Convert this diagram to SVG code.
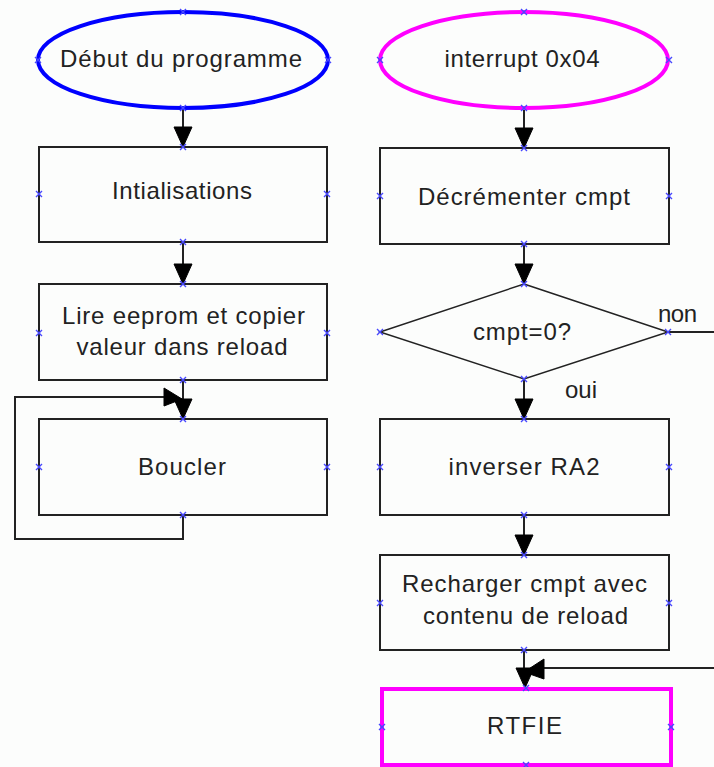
<svg xmlns="http://www.w3.org/2000/svg" width="714" height="767" viewBox="0 0 714 767">
<defs>
<style>
.box{fill:none;stroke:#222;stroke-width:2}
.t{font-family:"Liberation Sans",Arial,sans-serif;font-size:24px;fill:#222;text-anchor:middle}
.tl{font-family:"Liberation Sans",Arial,sans-serif;font-size:24px;fill:#222}
.ln{fill:none;stroke:#222;stroke-width:2}
.ah{fill:#000;stroke:#000;stroke-width:1}
.mk{stroke:#4848ff;stroke-width:1.4;fill:none}
</style>
<path id="x" d="M-3,-3L3,3M-3,3L3,-3" class="mk"/>
</defs>
<rect width="714" height="767" fill="#fcfdfc"/>

<g id="connectors">
<line class="ln" x1="183" y1="108" x2="183" y2="130"/>
<polygon class="ah" points="174,127 192,127 183,147"/>
<line class="ln" x1="183" y1="242" x2="183" y2="266"/>
<polygon class="ah" points="174,264 192,264 183,284"/>
<line class="ln" x1="183" y1="380" x2="183" y2="402"/>
<polygon class="ah" points="174,399 192,399 183,419"/>
<polyline class="ln" points="183,515 183,539 15,539 15,397 166,397"/>
<polygon class="ah" points="164,388 164,406 182,399"/>
<line class="ln" x1="524" y1="108" x2="524" y2="130"/>
<polygon class="ah" points="515,128 533,128 524,148"/>
<line class="ln" x1="524" y1="244" x2="524" y2="266"/>
<polygon class="ah" points="515,264 533,264 524,284"/>
<line class="ln" x1="668" y1="332" x2="714" y2="332"/>
<line class="ln" x1="524" y1="379" x2="524" y2="402"/>
<polygon class="ah" points="515,399 533,399 524,419"/>
<line class="ln" x1="524" y1="515" x2="524" y2="538"/>
<polygon class="ah" points="515,535 533,535 524,555"/>
<line class="ln" x1="524" y1="650" x2="524" y2="672"/>
<polygon class="ah" points="516,668 534,668 525,688"/>
<line class="ln" x1="714" y1="668" x2="542" y2="668"/>
<polygon class="ah" points="544,659 544,679 524,672"/>
</g>

<g id="start">
<ellipse cx="183" cy="60" rx="145" ry="48" fill="none" stroke="#0000ff" stroke-width="4"/>
<text class="t" x="181" y="67" textLength="242" lengthAdjust="spacing">Début du programme</text>
<use href="#x" x="183" y="12"/><use href="#x" x="38" y="60"/><use href="#x" x="328" y="60"/><use href="#x" x="183" y="108"/>
</g>

<g id="init">
<rect class="box" x="39" y="147" width="288" height="95"/>
<text class="t" x="182" y="199" textLength="140" lengthAdjust="spacing">Intialisations</text>
<use href="#x" x="183" y="147"/><use href="#x" x="39" y="194"/><use href="#x" x="327" y="194"/><use href="#x" x="183" y="242"/>
</g>

<g id="lire">
<rect class="box" x="39" y="284" width="288" height="96"/>
<text class="t" x="183.5" y="324" textLength="243" lengthAdjust="spacing">Lire eeprom et copier</text>
<text class="t" x="182" y="355" textLength="211" lengthAdjust="spacing">valeur dans reload</text>
<use href="#x" x="183" y="284"/><use href="#x" x="39" y="333"/><use href="#x" x="327" y="333"/><use href="#x" x="183" y="380"/>
</g>

<g id="boucler">
<rect class="box" x="39" y="419" width="288" height="96"/>
<text class="t" x="182" y="475" textLength="88" lengthAdjust="spacing">Boucler</text>
<use href="#x" x="183" y="419"/><use href="#x" x="39" y="467"/><use href="#x" x="327" y="467"/><use href="#x" x="183" y="515"/>
</g>

<g id="interrupt">
<ellipse cx="524" cy="60" rx="144" ry="48" fill="none" stroke="#ff00ff" stroke-width="4"/>
<text class="t" x="522" y="67" textLength="155" lengthAdjust="spacing">interrupt 0x04</text>
<use href="#x" x="524" y="12"/><use href="#x" x="380" y="60"/><use href="#x" x="669" y="60"/><use href="#x" x="524" y="108"/>
</g>

<g id="decrementer">
<rect class="box" x="380" y="148" width="289" height="96"/>
<text class="t" x="524" y="205" textLength="212" lengthAdjust="spacing">Décrémenter cmpt</text>
<use href="#x" x="524" y="148"/><use href="#x" x="380" y="196"/><use href="#x" x="669" y="196"/><use href="#x" x="524" y="244"/>
</g>

<g id="test">
<polygon points="524,284 668,332 524,379 380,332" fill="none" stroke="#222" stroke-width="1.5"/>
<text class="t" x="522" y="340" textLength="98" lengthAdjust="spacing">cmpt=0?</text>
<text class="tl" x="658" y="322" textLength="39" lengthAdjust="spacing">non</text>
<text class="tl" x="565" y="398" textLength="32" lengthAdjust="spacing">oui</text>
<use href="#x" x="524" y="284"/><use href="#x" x="380" y="332"/><use href="#x" x="668" y="332"/><use href="#x" x="524" y="379"/>
</g>

<g id="inverser">
<rect class="box" x="380" y="419" width="289" height="96"/>
<text class="t" x="524" y="475" textLength="151" lengthAdjust="spacing">inverser RA2</text>
<use href="#x" x="524" y="419"/><use href="#x" x="380" y="467"/><use href="#x" x="669" y="467"/><use href="#x" x="524" y="515"/>
</g>

<g id="recharger">
<rect class="box" x="380" y="555" width="289" height="95"/>
<text class="t" x="524.5" y="592" textLength="245" lengthAdjust="spacing">Recharger cmpt avec</text>
<text class="t" x="525.5" y="624" textLength="205" lengthAdjust="spacing">contenu de reload</text>
<use href="#x" x="524" y="555"/><use href="#x" x="380" y="603"/><use href="#x" x="669" y="603"/><use href="#x" x="524" y="650"/>
</g>

<g id="rtfie">
<rect x="382" y="689" width="289" height="76" fill="none" stroke="#ff00ff" stroke-width="4"/>
<text class="t" x="524.5" y="734" textLength="75" lengthAdjust="spacing">RTFIE</text>
<use href="#x" x="526" y="688"/><use href="#x" x="382" y="727"/><use href="#x" x="671" y="727"/><use href="#x" x="526" y="765"/>
</g>
</svg>
